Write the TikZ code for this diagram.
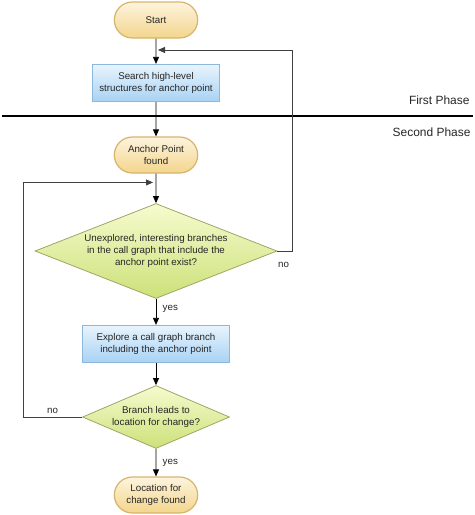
\documentclass[tikz,border=0pt]{standalone}
\usepackage{fontspec}
\setmainfont{Liberation Sans}
\usepackage{xcolor}
\usepackage{tikz}
\usetikzlibrary{positioning,shapes.geometric,shapes.misc,arrows.meta,calc}

\definecolor{pilltop}{HTML}{FDF4DE}
\definecolor{pillbot}{HTML}{F3D58C}
\definecolor{pillline}{HTML}{D7B46C}
\definecolor{boxtop}{HTML}{E8F4FD}
\definecolor{boxbot}{HTML}{A8D2F4}
\definecolor{boxline}{HTML}{8DB8DD}
\definecolor{dectop}{HTML}{F6FBCF}
\definecolor{decbot}{HTML}{CCE179}
\definecolor{decline}{HTML}{A2A466}

\begin{document}
\begin{tikzpicture}[node distance=72bp, >={Triangle[length=7bp,width=6bp]},
    every node/.style={font=\fontsize{9.8}{12}\selectfont, text=black!85},
    pill/.style={draw=pillline, line width=1.2bp, rounded rectangle, top color=pilltop, bottom color=pillbot,
      minimum width=90bp, minimum height=36bp, align=center},
    task/.style={draw=boxline, line width=1.2bp, rectangle, top color=boxtop, bottom color=boxbot,
      minimum height=37bp, align=center},
    decision/.style={draw=decline, line width=0.8bp, diamond, top color=dectop, bottom color=decbot,
      inner sep=0pt, align=center},
    line/.style={->, line width=0.8bp},
    loop/.style={->, line width=0.8bp, draw=black!75}]
  \useasboundingbox (0,0) rectangle (475bp,-515bp);

  % Nodes
  \node[pill] (start) at (156bp,-20bp) {Start};
  \node[task, minimum width=127bp, below of=start, yshift=9bp] (search) {Search high-level\\structures for anchor point};
  \node[pill, below of=search] (anchor) {Anchor Point\\found};
  \node[decision, aspect=2.55, minimum width=242bp, minimum height=95bp, below of=anchor, yshift=-24bp] (branches)
    {Unexplored, interesting branches\\in the call graph that include the\\anchor point exist?};
  \node[task, minimum width=147bp, below of=branches, yshift=-21bp] (explore) {Explore a call graph branch\\including the anchor point};
  \node[decision, aspect=2.33, minimum width=147bp, minimum height=63bp, below of=explore, yshift=-1bp] (leads)
    {Branch leads to\\location for change?};
  \node[pill, below of=leads, yshift=-6bp] (location) {Location for\\change found};

  % Phases
  \coordinate (sepL) at (2bp,-116bp);
  \coordinate (sepR) at (473bp,-116bp);
  \draw[line width=1.3bp] (sepL) -- (sepR);
  \node[anchor=east, font=\fontsize{12}{14}\selectfont] (first) at (473bp,-100bp) {First Phase};
  \node[anchor=east, font=\fontsize{12}{14}\selectfont] (second) at (474bp,-132bp) {Second Phase};

  % Arrows and labels
  \coordinate (join1) at ($(start.south)!.45!(search.north)$);
  \coordinate (join2) at ($(anchor.south)!.3!(branches.north)$);
  \draw[line] (start) -- (search);
  \draw[line] (search) -- (anchor);
  \draw[line] (anchor) -- (branches);
  \draw[line] (branches) -- node[pos=.4, right, xshift=3bp] {yes} (explore);
  \draw[line] (explore) -- (leads);
  \draw[line] (leads) -- node[midway, right, xshift=3bp] {yes} (location);

  % Loops back
  \draw[loop] (branches.east) -- node[pos=0, below right, xshift=-3bp, yshift=-8bp] {no} ++(15bp,0) |- ([xshift=2bp]join1);
  \draw[loop] (leads.west) -- node[midway, above] {no} ++(-59bp,0) |- ([xshift=-3bp]join2);
\end{tikzpicture}
\end{document}
